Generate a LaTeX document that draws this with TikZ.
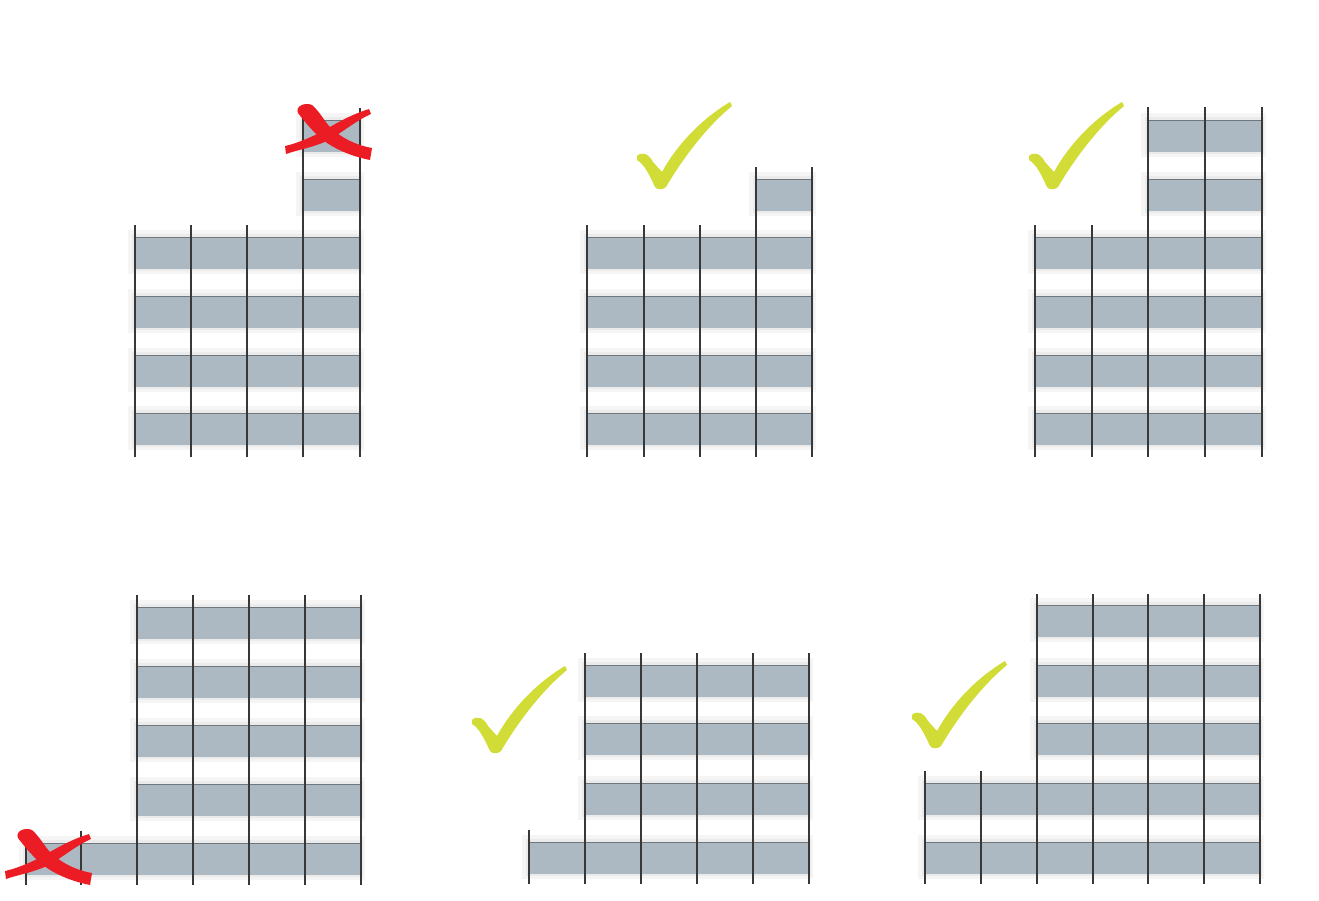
\documentclass[tikz,border=0pt]{standalone}
\definecolor{slabc}{HTML}{ADB9C2}
\definecolor{colc}{HTML}{383838}
\definecolor{edgec}{HTML}{6F777C}
\definecolor{xred}{HTML}{EC1C24}
\definecolor{chk}{HTML}{D2DC36}
\tikzset{
  slab/.style={fill=slabc},
  slabedge/.style={draw=edgec, line width=0.5pt},
  column/.style={draw=colc, line width=1.4pt},
  haze/.style={fill=black, opacity=0.04},
  redx/.pic={
    \fill[xred] (-27,-19) .. controls (-30,-26) and (-20,-30) .. (-13,-27)
      .. controls (-5,-20) and (0,-10) .. (5,-5)
      .. controls (15,5) and (30,13) .. (47,16) -- (45,28)
      .. controls (25,24) and (8,16) .. (-2,8)
      .. controls (-12,0) and (-20,-10) .. cycle;
    \fill[xred] (44,-23) .. controls (25,-17) and (10,-8) .. (-2,-1)
      .. controls (-15,6) and (-30,12) .. (-40,14) -- (-39,22)
      .. controls (-28,18) and (-14,16) .. (2,9)
      .. controls (18,0) and (32,-12) .. (46,-18) -- cycle;
  },
  check/.pic={
    \fill[chk] (-21,-32) .. controls (-16,-37) and (-9,-34) .. (-5,-26)
      -- (4,-16) .. controls (20,-45) and (45,-70) .. (72,-86)
      -- (74,-82) .. controls (52,-64) and (28,-35) .. (8,-1)
      .. controls (5,2) and (-1,2) .. (-3,-1)
      .. controls (-9,-14) and (-14,-24) .. (-21,-28) -- cycle;
  }
}
\newcommand\slabrow[3]{%
  \fill[haze] (#1-7,#3-7) rectangle (#2+4,#3+37);
  \fill[haze] (#1-3,#3-3) rectangle (#2+2,#3+34);
  \fill[slab] (#1,#3) rectangle (#2,#3+32);
  \draw[slabedge] (#1,#3) -- (#2,#3);}
\newcommand\colline[3]{\draw[column] (#1,#2) -- (#1,#3);}
\begin{document}
\begin{tikzpicture}[x=0.02cm,y=-0.02cm]
\useasboundingbox (0,0) rectangle (1319,900);
\fill[white] (0,0) rectangle (1319,900);

% ---------- Panel 1 ----------
\foreach \y in {237,296,355,413} {\slabrow{135}{360}{\y}}
\foreach \y in {120,179} {\slabrow{303}{360}{\y}}
\foreach \x in {135,191,247} {\colline{\x}{225}{457}}
\foreach \x in {303,360} {\colline{\x}{108}{457}}
\pic at (325,132) {redx};

% ---------- Panel 2 ----------
\foreach \y in {237,296,355,413} {\slabrow{587}{812}{\y}}
\slabrow{756}{812}{179}
\foreach \x in {587,644,700} {\colline{\x}{225}{457}}
\foreach \x in {756,812} {\colline{\x}{167}{457}}
\pic at (658,188) {check};

% ---------- Panel 3 ----------
\foreach \y in {237,296,355,413} {\slabrow{1035}{1262}{\y}}
\foreach \y in {120,179} {\slabrow{1148}{1262}{\y}}
\foreach \x in {1035,1092} {\colline{\x}{225}{457}}
\foreach \x in {1148,1205,1262} {\colline{\x}{107}{457}}
\pic at (1050,188) {check};

% ---------- Panel 4 ----------
\foreach \y in {607,666,725,784} {\slabrow{137}{361}{\y}}
\slabrow{26}{361}{843}
\foreach \x in {137,193,249,305,361} {\colline{\x}{595}{885}}
\foreach \x in {26,81} {\colline{\x}{831}{885}}
\pic at (45,857) {redx};

% ---------- Panel 5 ----------
\foreach \y in {665,723,783} {\slabrow{585}{809}{\y}}
\slabrow{529}{809}{842}
\foreach \x in {585,641,697,753,809} {\colline{\x}{653}{884}}
\colline{529}{830}{884}
\pic at (493,752) {check};

% ---------- Panel 6 ----------
\foreach \y in {605,665,723} {\slabrow{1037}{1260}{\y}}
\foreach \y in {783,842} {\slabrow{925}{1260}{\y}}
\foreach \x in {1037,1093,1148,1204,1260} {\colline{\x}{594}{884}}
\foreach \x in {925,981} {\colline{\x}{771}{884}}
\pic at (933,747) {check};
\end{tikzpicture}
\end{document}
